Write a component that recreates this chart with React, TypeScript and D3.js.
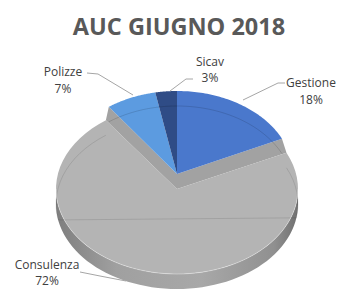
import React from "react";
import * as d3 from "d3";

const categories = ["Gestione", "Consulenza", "Polizze", "Sicav"];
const values = [18, 72, 7, 3];
const percentLabels = ["18%", "72%", "7%", "3%"];
const colors = ["#4a78cc", "#b4b4b4", "#5c9be0", "#2f4c86"];
const title = "AUC GIUGNO 2018";

const W = 341;
const H = 289;

export default function App() {
  const pie = d3.pie<number>().sort(null).value((d) => d).startAngle(0).endAngle(2 * Math.PI);
  const arcs = pie(values);

  const main = { cx: 177, cy: 174, rx: 116, ry: 83 };
  const cons = { cx: 177, cy: 189, rx: 121, ry: 85 };
  const depth = 15;
  const explodedIndex = 1;

  const pt = (e: typeof main, a: number, dy = 0): [number, number] => [
    e.cx + e.rx * Math.sin(a),
    e.cy + dy - e.ry * Math.cos(a),
  ];
  const line = d3.line<[number, number]>();
  const sample = (a0: number, a1: number, n = 60) =>
    d3.range(n + 1).map((i) => a0 + ((a1 - a0) * i) / n);

  const topPath = (e: typeof main, a0: number, a1: number) => {
    const pts: [number, number][] = [[e.cx, e.cy], ...sample(a0, a1).map((a) => pt(e, a))];
    return line(pts) + "Z";
  };

  const c = arcs[explodedIndex];
  const s0 = Math.max(c.startAngle, Math.PI / 2);
  const s1 = Math.min(c.endAngle, (3 * Math.PI) / 2);
  const sideTop = sample(s0, s1).map((a) => pt(cons, a));
  const sideBot = sample(s0, s1).map((a) => pt(cons, a, depth)).reverse();
  const sidePath = line([...sideTop, ...sideBot]) + "Z";

  const bandPts: [number, number][] = [
    [main.cx, main.cy],
    pt(main, c.startAngle),
    pt(cons, c.startAngle),
    [cons.cx, cons.cy],
    pt(cons, c.endAngle),
    pt(main, c.endAngle),
  ];
  const bandPath = line(bandPts) + "Z";

  const backArcs = arcs.filter((_, i) => i !== explodedIndex);

  const ghostBack = backArcs.map((a) => line(sample(a.startAngle, a.endAngle).map((t) => pt(main, t, depth))));
  const ghostCons = line(sample(c.startAngle, c.endAngle).filter((t) => Math.cos(t) > -0.2).map((t) => pt(cons, t, depth)));

  const labelFont = "Open Sans, Lato, sans-serif";
  const labels = [
    { i: 0, x: 311, y1: 87, y2: 104, leader: [[285, 83], [278, 83], [243, 100]] },
    { i: 2, x: 63, y1: 76, y2: 93, leader: [[87, 73], [98, 74], [133, 95]] },
    { i: 3, x: 210, y1: 66, y2: 82, leader: [[193, 79], [186, 79], [170, 91]] },
    { i: 1, x: 47, y1: 269, y2: 285, leader: [[80, 272], [100, 276], [126, 281]] },
  ];

  return (
    <svg
      width={W}
      height={H}
      style={{ position: "fixed", left: 0, top: 0, background: "#ffffff" }}
    >
      <defs>
        <linearGradient id="sideGrad" x1="0" x2="1" y1="0" y2="0">
          <stop offset="0" stopColor="#7e7e7e" />
          <stop offset="0.25" stopColor="#a0a0a0" />
          <stop offset="0.6" stopColor="#a8a8a8" />
          <stop offset="0.9" stopColor="#909090" />
          <stop offset="1" stopColor="#707070" />
        </linearGradient>
      </defs>
      <text
        x={179}
        y={35}
        textAnchor="middle"
        fontFamily="Open Sans, sans-serif"
        fontWeight="bold"
        fontSize={23.5}
        fill="#595959"
      >
        {title}
      </text>

      <path d={bandPath} fill="#a2a2a2" />

      {backArcs.map((a, k) => (
        <path key={k} d={topPath(main, a.startAngle, a.endAngle)} fill={colors[a.index]} />
      ))}
      {ghostBack.map((d, k) => (
        <path key={"g" + k} d={d || ""} fill="none" stroke="rgba(0,0,0,0.13)" strokeWidth={1} />
      ))}

      <path d={sidePath} fill="url(#sideGrad)" />
      <path d={topPath(cons, c.startAngle, c.endAngle)} fill={colors[explodedIndex]} />
      <path d={ghostCons || ""} fill="none" stroke="rgba(0,0,0,0.1)" strokeWidth={1} />
      <path d={line(sideTop) || ""} fill="none" stroke="rgba(255,255,255,0.35)" strokeWidth={1} />

      {labels.map((l) => (
        <g key={l.i}>
          <path d={line(l.leader as [number, number][]) || ""} fill="none" stroke="#a6a6a6" strokeWidth={1} />
          <text x={l.x} y={l.y1} textAnchor="middle" fontFamily={labelFont} fontSize={12} fill="#404040">
            {categories[l.i]}
          </text>
          <text x={l.x} y={l.y2} textAnchor="middle" fontFamily={labelFont} fontSize={12} fill="#404040">
            {percentLabels[l.i]}
          </text>
        </g>
      ))}
    </svg>
  );
}
